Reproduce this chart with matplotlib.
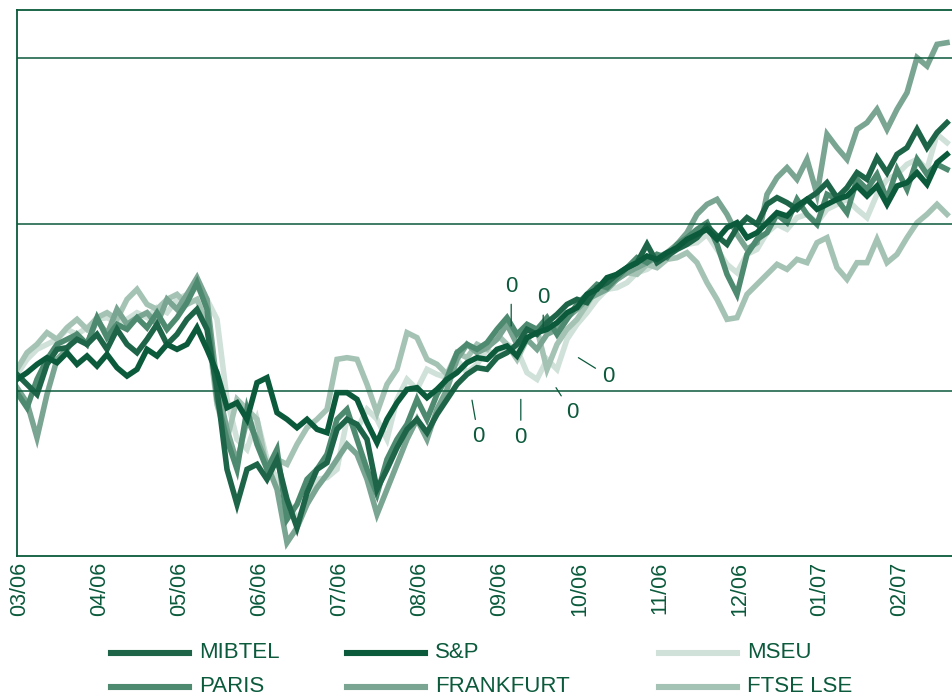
# Index performance of six stock markets, 03/06 - 02/07 (% change from start)
import numpy as np
import matplotlib.pyplot as plt
from matplotlib.lines import Line2D

plt.rcParams['font.family'] = ['Liberation Sans', 'DejaVu Sans']

months = ["03/06", "04/06", "05/06", "06/06", "07/06", "08/06",
          "09/06", "10/06", "11/06", "12/06", "01/07", "02/07"]

# one reading every 1/8 month, starting at the left edge
start = -0.0375
step = 0.125

mibtel = [1.0, 0.4, -0.2, 1.6, 2.5, 2.6, 3.1, 2.8, 3.4, 2.5, 3.7, 2.8, 2.3, 3.1, 4.0, 2.8,
          3.4, 4.3, 4.9, 3.7, 0.1, -4.7, -6.8, -4.7, -4.4, -5.3, -4.1, -6.5, -8.2, -6.1,
          -4.7, -4.3, -2.3, -1.7, -2.0, -2.9, -5.9, -4.7, -3.4, -2.3, -1.7, -2.5, -1.4,
          -0.5, 0.4, 1.0, 1.4, 1.3, 2.0, 2.3, 2.8, 3.7, 3.4, 4.1, 4.6, 5.2, 5.5, 5.3, 6.2,
          6.5, 7.0, 7.4, 7.7, 8.8, 7.7, 8.1, 8.5, 8.8, 9.2, 9.9, 9.3, 8.8, 9.8, 10.4, 10.0,
          11.2, 11.6, 11.3, 10.9, 11.5, 11.9, 12.5, 11.6, 12.2, 13.1, 12.7, 14.0, 13.1,
          14.2, 14.6, 15.7, 14.6, 15.5, 16.1]

sp = [0.7, 1.1, 1.6, 2.0, 1.7, 2.3, 1.6, 2.1, 1.5, 2.2, 1.4, 0.9, 1.3, 2.5, 2.1, 2.8,
      2.5, 2.8, 3.8, 2.5, 1.1, -1.0, -0.7, -1.7, 0.5, 0.8, -1.3, -1.7, -2.2, -1.7, -2.3,
      -2.5, -0.1, -0.1, -0.5, -1.9, -3.1, -1.7, -0.7, 0.1, 0.2, -0.4, 0.1, 0.7, 1.1, 1.7,
      2.0, 1.9, 2.5, 2.7, 2.1, 3.2, 3.5, 3.7, 4.1, 4.7, 5.0, 5.8, 6.1, 6.8, 7.0, 7.4,
      7.7, 8.1, 7.9, 8.3, 8.6, 9.1, 9.4, 9.7, 9.1, 9.8, 10.1, 9.2, 9.5, 10.1, 10.7, 10.5,
      11.1, 11.5, 10.9, 11.2, 11.5, 11.7, 12.3, 11.7, 12.3, 11.2, 12.3, 12.5, 13.1, 12.4,
      13.7, 14.2]

mseu = [1.0, 1.9, 2.5, 2.8, 3.1, 3.7, 3.4, 3.8, 4.3, 4.4, 4.1, 4.3, 4.7, 4.4, 5.0, 4.7,
        5.5, 5.8, 6.2, 5.5, 4.3, -0.5, -2.9, -3.5, -1.7, -4.1, -5.3, -6.5, -7.7, -6.8,
        -5.3, -5.2, -4.7, -1.7, -2.3, -1.1, -1.7, -2.9, -0.5, 0.7, 0.1, 1.3, 1.0, 0.8,
        1.9, 1.1, 1.6, 2.5, 2.0, 2.8, 2.5, 1.1, 0.7, 1.9, 1.3, 3.1, 4.0, 4.7, 5.5, 6.1,
        6.2, 6.5, 7.1, 7.3, 7.7, 8.0, 8.5, 8.8, 8.9, 9.4, 8.5, 7.6, 7.1, 8.2, 8.5, 9.5,
        10.0, 9.7, 10.4, 10.6, 10.1, 10.9, 11.2, 11.5, 10.9, 10.4, 11.8, 12.7, 13.0, 13.6,
        13.9, 13.3, 15.4, 14.9]

paris = [-0.1, -1.0, 0.7, 1.9, 2.8, 3.1, 3.4, 2.8, 4.4, 3.2, 4.0, 3.7, 4.4, 3.8, 4.7,
         3.7, 4.4, 5.3, 6.5, 4.9, -0.5, -2.9, -4.7, -1.1, -3.2, -4.7, -3.5, -7.7, -6.8,
         -5.3, -4.7, -3.8, -1.7, -1.1, -2.9, -4.7, -6.2, -4.1, -2.9, -2.0, -0.5, -1.7,
         -0.2, 0.8, 2.3, 2.8, 2.5, 2.9, 3.7, 4.4, 3.4, 4.0, 3.7, 4.4, 3.4, 4.3, 5.2, 5.8,
         6.4, 6.2, 6.8, 7.4, 8.0, 7.7, 8.2, 8.0, 8.8, 9.2, 9.7, 10.1, 8.8, 7.0, 5.8, 8.2,
         9.1, 9.5, 10.6, 10.1, 11.5, 10.6, 10.0, 11.8, 11.5, 10.7, 12.7, 12.1, 13.0, 11.5,
         13.3, 12.1, 13.9, 13.0, 13.6, 13.3]

frankfurt = [0.2, -0.7, -2.8, -0.2, 1.9, 2.5, 3.4, 2.8, 4.3, 3.4, 4.9, 4.0, 4.4, 4.7,
             4.0, 5.5, 4.9, 5.8, 6.8, 5.5, 0.4, -2.3, -4.3, -1.7, -2.9, -4.4, -5.9, -9.1,
             -8.2, -6.8, -5.8, -5.0, -4.1, -3.2, -3.8, -5.3, -7.4, -5.9, -4.4, -2.9, -1.7,
             -2.9, -1.1, 0.1, 1.9, 2.8, 2.3, 2.6, 3.1, 4.0, 2.8, 3.1, 2.5, 3.4, 3.7, 4.4,
             4.9, 5.5, 5.8, 6.1, 6.7, 7.1, 7.4, 7.7, 8.0, 8.3, 8.8, 9.5, 10.6, 11.2, 11.5,
             10.6, 9.4, 8.5, 8.9, 11.8, 12.8, 13.4, 12.7, 13.9, 11.8, 15.4, 14.6, 13.9,
             15.7, 16.1, 16.9, 15.7, 16.9, 17.9, 20.0, 19.5, 20.8, 20.9]

ftse = [1.3, 2.3, 2.8, 3.5, 3.1, 3.8, 4.3, 3.7, 4.4, 4.7, 4.3, 5.5, 6.1, 5.2, 4.9, 5.5,
        5.8, 5.2, 5.5, 4.0, -0.8, -2.9, -0.5, -1.1, -1.7, -4.7, -4.1, -4.4, -3.2, -2.2,
        -1.7, -1.1, 1.9, 2.0, 1.9, 0.4, -1.3, 0.4, 1.3, 3.5, 3.2, 1.9, 1.6, 1.0, 2.3, 2.0,
        2.8, 2.5, 3.4, 2.8, 1.9, 3.1, 3.7, 1.3, 2.8, 3.7, 4.3, 5.2, 6.1, 6.4, 6.7, 7.1,
        7.0, 7.6, 7.4, 7.9, 8.0, 8.3, 7.7, 6.5, 5.5, 4.3, 4.4, 5.8, 6.4, 7.0, 7.6, 7.3,
        7.9, 7.7, 8.9, 9.2, 7.4, 6.7, 7.7, 7.7, 9.1, 7.7, 8.2, 9.2, 10.1, 10.6, 11.2, 10.6]

names = ["MIBTEL", "S&P", "MSEU", "PARIS", "FRANKFURT", "FTSE LSE"]
series = [mibtel, sp, mseu, paris, frankfurt, ftse]
colors = ["#1d6448", "#0b5a3c", "#cfe1d9", "#4e8a70", "#79a592", "#a5c3b5"]
draw_order = [2, 5, 4, 3, 0, 1]   # light lines underneath, dark on top

# "0" markers: (text x, text y, point x, point y)
notes = [(6.14, 6.25, 6.14, 3.9), (6.54, 5.6, 6.54, 3.5), (7.35, 0.9, 6.98, 2.0),
         (6.9, -1.3, 6.7, 0.2), (6.26, -2.8, 6.26, -0.5), (5.73, -2.75, 5.65, -0.55)]

green = "#0b5a3c"

fig = plt.figure(figsize=(9.52, 6.98), dpi=100)
ax = fig.add_axes([17/952, 142/698, 938/952, 546/698])

for n, i in enumerate(draw_order):
    y = np.array(series[i])
    x = start + step*np.arange(len(y))
    ax.plot(x, y, color=colors[i], lw=4.0, solid_joinstyle='miter', zorder=2+n*0.1)

for g in [0, 10, 20]:
    ax.axhline(g, color=green, lw=1.1, zorder=5)

for tx, ty, px, py in notes:
    ax.annotate("0", xy=(px, py), xytext=(tx, ty), ha='center', va='center',
                fontsize=16, color=green, zorder=6,
                arrowprops=dict(arrowstyle='-', color=green, lw=0.9, shrinkA=3, shrinkB=0))

ax.set_xlim(-0.0375, 11.6875)
ax.set_ylim(-9.9, 22.86)
ax.set_xticks(range(len(months)))
ax.set_xticklabels(months, rotation=90, fontsize=15.5, color=green)
ax.tick_params(axis='x', length=0, pad=4)
ax.set_yticks([])
for s in ['left', 'top', 'bottom']:
    ax.spines[s].set_color(green)
    ax.spines[s].set_linewidth(1.3)
ax.spines['right'].set_visible(False)

# legend, three columns by two rows
col_x = [111, 347, 659]
row_y = [653, 687]
for i, name in enumerate(names):
    cx = col_x[i % 3]
    cy = row_y[i // 3]
    fig.add_artist(Line2D([cx/952, (cx+78)/952], [1-cy/698, 1-cy/698],
                          color=colors[i], lw=4.4, transform=fig.transFigure))
    fig.text((cx+88)/952, 1-cy/698, name, fontsize=16, color=green, va='center', ha='left')

plt.savefig('out.png', dpi=100)
